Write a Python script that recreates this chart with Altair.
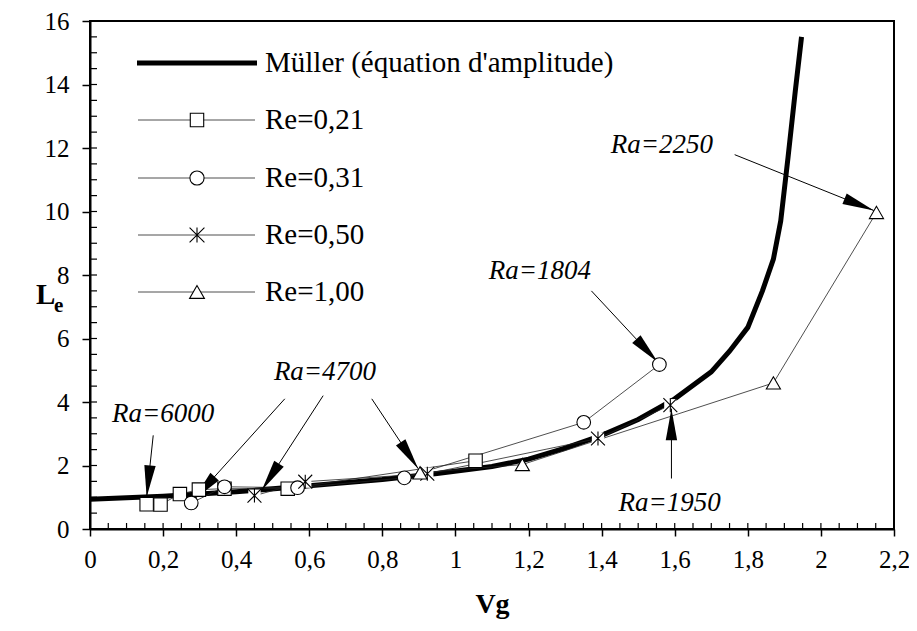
import math
import altair as alt
import pandas as pd

# ---------------- data ----------------
muller_vg = [0, 0.2, 0.4, 0.6, 0.8, 0.95, 1.1, 1.2, 1.3, 1.4, 1.5, 1.6, 1.7, 1.75, 1.8, 1.84, 1.87, 1.89, 1.91, 1.93, 1.947]
muller_le = [0.94, 1.03, 1.17, 1.36, 1.56, 1.75, 1.97, 2.2, 2.55, 2.95, 3.45, 4.1, 4.95, 5.6, 6.35, 7.5, 8.5, 9.7, 11.7, 13.8, 15.5]

re021_vg = [0.155, 0.193, 0.246, 0.298, 0.368, 0.541, 1.055]
re021_le = [0.78, 0.77, 1.10, 1.24, 1.27, 1.27, 2.15]
re031_vg = [0.277, 0.368, 0.568, 0.860, 1.351, 1.558]
re031_le = [0.82, 1.33, 1.30, 1.61, 3.36, 5.18]
re050_vg = [0.450, 0.589, 0.923, 1.390, 1.588]
re050_le = [1.05, 1.49, 1.74, 2.85, 3.90]
re100_vg = [0.903, 1.183, 1.870, 2.152]
re100_le = [1.77, 2.03, 4.60, 9.97]

series_names = ["Re=0,21", "Re=0,31", "Re=0,50", "Re=1,00"]
muller_name = "Müller (équation d'amplitude)"

ann_text = ["Ra=6000", "Ra=4700", "Ra=1804", "Ra=1950", "Ra=2250"]
ann_text_vg = [0.200, 0.643, 1.231, 1.586, 1.565]
ann_text_le = [3.61, 4.94, 8.13, 0.83, 12.11]

arrow_from_vg = [0.173, 0.533, 0.638, 0.771, 1.372, 1.591, 1.764]
arrow_from_le = [2.95, 4.10, 4.20, 4.10, 7.50, 1.59, 11.79]
arrow_to_vg = [0.155, 0.283, 0.470, 0.898, 1.554, 1.591, 2.145]
arrow_to_le = [1.01, 0.91, 1.22, 1.90, 5.25, 3.79, 10.03]

x_tick_values = [0, 0.2, 0.4, 0.6, 0.8, 1.0, 1.2, 1.4, 1.6, 1.8, 2.0, 2.2]
y_tick_values = [0, 2, 4, 6, 8, 10, 12, 14, 16]

# ---------------- layout ----------------
W, H = 804, 508
X_MAX, Y_MAX = 2.2, 16
SX, SY = W / X_MAX, H / Y_MAX
FONT = "Liberation Serif"

SHAPES = {
    "Re=0,21": "square",
    "Re=0,31": "circle",
    "Re=0,50": "M-1,-1L1,1M-1,1L1,-1M0,-1L0,1",
    "Re=1,00": "triangle-up",
}
SIZES = {"Re=0,21": 180, "Re=0,31": 200, "Re=0,50": 220, "Re=1,00": 220}
ARROW_SHAPE = "M0,0L-0.36,2L0.36,2Z"

xs = alt.Scale(domain=[0, X_MAX], nice=False, zero=False)
ys = alt.Scale(domain=[0, Y_MAX], nice=False, zero=False)

x_axis = alt.Axis(values=x_tick_values, grid=False, tickSize=7, tickWidth=1.5,
                  labelExpr="replace(format(datum.value, '.1~f'), '.', ',')",
                  labelFlush=False, labelOverlap=False, labelPadding=11,
                  labelFontSize=25, titleFontSize=28, titleFontWeight="bold",
                  titlePadding=18)
y_axis = alt.Axis(values=y_tick_values, grid=False, tickSize=8, tickWidth=1.5,
                  labelFlush=False, labelOverlap=False, labelPadding=13,
                  labelFontSize=25)


def X(field):
    return alt.X(field, scale=xs, axis=x_axis, title="Vg")


def Y(field):
    return alt.Y(field, scale=ys, axis=y_axis, title="")


# ---------------- tables ----------------
muller_df = pd.DataFrame({"vg": muller_vg, "le": muller_le})

rows = []
for name, vx, vy in zip(series_names, [re021_vg, re031_vg, re050_vg, re100_vg],
                        [re021_le, re031_le, re050_le, re100_le]):
    for i, (a, b) in enumerate(zip(vx, vy)):
        rows.append({"series": name, "vg": a, "le": b, "ord": i})
series_df = pd.DataFrame(rows)

arrow_df = pd.DataFrame({"vg": arrow_from_vg, "le": arrow_from_le,
                         "vg1": arrow_to_vg, "le1": arrow_to_le})
angles = [
    math.degrees(math.atan2((x1 - x0) * SX, (y1 - y0) * SY)) % 360
    for x0, y0, x1, y1 in zip(arrow_from_vg, arrow_from_le, arrow_to_vg, arrow_to_le)
]
head_df = pd.DataFrame({"vg": arrow_to_vg, "le": arrow_to_le, "angle": angles})
text_df = pd.DataFrame({"t": ann_text, "vg": ann_text_vg, "le": ann_text_le})

xminor = pd.DataFrame({"vg": [round(i * 0.05, 2) for i in range(1, 44)]})
yminor = pd.DataFrame({"le": [i * 0.5 for i in range(1, 32)]})

shape_scale = alt.Scale(domain=series_names, range=[SHAPES[s] for s in series_names])
size_scale = alt.Scale(domain=series_names, range=[SIZES[s] for s in series_names])

# ---------------- layers ----------------
muller = alt.Chart(muller_df).mark_line(color="black", strokeWidth=5).encode(x=X("vg:Q"), y=Y("le:Q"))

thin = alt.Chart(series_df).mark_line(color="#222222", strokeWidth=0.8).encode(
    x=X("vg:Q"), y=Y("le:Q"), detail="series:N", order="ord:Q")

backing = alt.Chart(series_df).transform_filter(alt.datum.series == "Re=0,50").mark_point(
    shape="square", filled=True, color="white", opacity=1, size=150).encode(
    x=X("vg:Q"), y=Y("le:Q"))

arrow_lines = alt.Chart(arrow_df).mark_rule(color="black", strokeWidth=1).encode(
    x=X("vg:Q"), y=Y("le:Q"), x2="vg1:Q", y2="le1:Q")

arrow_heads = alt.Chart(head_df).mark_point(shape=ARROW_SHAPE, filled=True, color="black",
                                            opacity=1, size=1000).encode(
    x=X("vg:Q"), y=Y("le:Q"), angle=alt.Angle("angle:Q", scale=None))

markers = alt.Chart(series_df).mark_point(filled=True, fill="white", stroke="black",
                                          strokeWidth=1.1, opacity=1).encode(
    x=X("vg:Q"), y=Y("le:Q"),
    shape=alt.Shape("series:N", scale=shape_scale, legend=None),
    size=alt.Size("series:N", scale=size_scale, legend=None))

ann = alt.Chart(text_df).mark_text(font=FONT, fontSize=27, fontStyle="italic",
                                   align="center", baseline="middle", color="black").encode(
    x=X("vg:Q"), y=Y("le:Q"), text="t:N")

xin = alt.Chart(xminor).mark_rule(color="black", strokeWidth=1.2).encode(
    x=X("vg:Q"), y=alt.value(H), y2=alt.value(H - 6))
yin = alt.Chart(yminor).mark_rule(color="black", strokeWidth=1.2).encode(
    y=Y("le:Q"), x=alt.value(0), x2=alt.value(7))

one = pd.DataFrame({"k": [0]})
ytitle_L = alt.Chart(one).mark_text(font=FONT, fontSize=29, fontWeight="bold", align="left",
                                    baseline="alphabetic", color="black").encode(
    x=alt.value(-54), y=alt.value(283), text=alt.value("L"))
ytitle_e = alt.Chart(one).mark_text(font=FONT, fontSize=21, fontWeight="bold", align="left",
                                    baseline="alphabetic", color="black").encode(
    x=alt.value(-36), y=alt.value(291), text=alt.value("e"))

# legend (drawn inside the plot, top left)
LEG_ROWS = [42, 99, 157, 214, 271]
legend_layers = [
    alt.Chart(one).mark_rule(color="black", strokeWidth=5).encode(
        x=alt.value(47), x2=alt.value(167), y=alt.value(LEG_ROWS[0])),
    alt.Chart(one).mark_text(font=FONT, fontSize=29, align="left", baseline="middle",
                             color="black").encode(
        x=alt.value(175), y=alt.value(LEG_ROWS[0]), text=alt.value(muller_name)),
]
for name, ly in zip(series_names, LEG_ROWS[1:]):
    legend_layers += [
        alt.Chart(one).mark_rule(color="#222222", strokeWidth=0.8).encode(
            x=alt.value(48), x2=alt.value(165), y=alt.value(ly)),
        alt.Chart(one).mark_point(shape=SHAPES[name], size=SIZES[name], filled=True,
                                  fill="white", stroke="black", strokeWidth=1.1,
                                  opacity=1).encode(x=alt.value(107), y=alt.value(ly)),
        alt.Chart(one).mark_text(font=FONT, fontSize=29, align="left", baseline="middle",
                                 color="black").encode(
            x=alt.value(175), y=alt.value(ly), text=alt.value(name)),
    ]

chart = alt.layer(muller, thin, backing, arrow_lines, arrow_heads, markers, ann, xin, yin,
                  ytitle_L, ytitle_e, *legend_layers).properties(
    width=W, height=H,
    autosize=alt.AutoSizeParams(type="none"),
    padding={"left": 82, "top": 13, "right": 15, "bottom": 90},
).configure_view(stroke="black", strokeWidth=2).configure_axis(
    domainColor="black", domainWidth=2, tickColor="black", labelColor="black",
    titleColor="black", labelFont=FONT, titleFont=FONT)

chart.save("out.html", embed_options={"renderer": "svg", "actions": False})
